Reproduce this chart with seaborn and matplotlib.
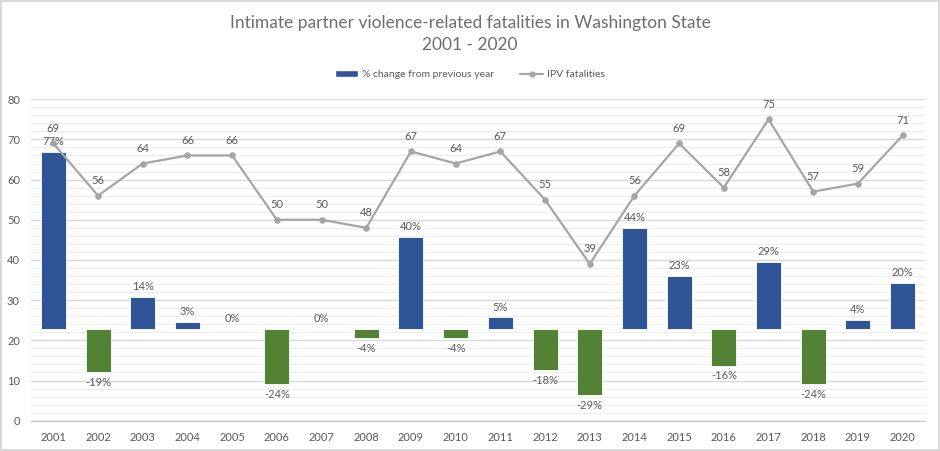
import numpy as np
import pandas as pd
import matplotlib
matplotlib.use("Agg")
import matplotlib.pyplot as plt
import seaborn as sns
from matplotlib.patches import Patch
from matplotlib.lines import Line2D

# --- dados ---
anos = [str(a) for a in range(2001, 2021)]
mortes_ipv = [69, 56, 64, 66, 66, 50, 50, 48, 67, 64, 67, 55, 39, 56, 69, 58, 75, 57, 59, 71]
variacao_pct = [77, -19, 14, 3, 0, -24, 0, -4, 40, -4, 5, -18, -29, 44, 23, -16, 29, -24, 4, 20]

AZUL = "#2F5597"
VERDE = "#548235"
CINZA_LINHA = "#A5A5A5"
CINZA_TEXTO = "#595959"

df = pd.DataFrame({
    "ano": anos,
    "mortes": mortes_ipv,
    "pct": np.array(variacao_pct) / 100,
})
cores = {a: (AZUL if p >= 0 else VERDE) for a, p in zip(anos, variacao_pct)}

sns.set_style("white")
plt.rcParams["font.family"] = ["Lato", "DejaVu Sans"]

fig = plt.figure(figsize=(9.4, 4.51), dpi=100, edgecolor="#D9D9D9", linewidth=1.5)
ax = fig.add_axes([0.033, 0.0672, 0.951, 0.7128])
ax_barras = ax.twinx()
ax_linha = ax.twinx()

# barras no eixo secundário (-40% a 100%)
sns.barplot(data=df, x="ano", y="pct", hue="ano", palette=cores, dodge=False,
            legend=False, width=0.56, edgecolor="white", linewidth=0.6,
            saturation=1, ax=ax_barras)
ax_barras.set_ylim(-0.4, 1.0)
for c in ax_barras.containers:
    ax_barras.bar_label(c, fmt="{:.0%}", padding=3.5, fontsize=8, color=CINZA_TEXTO)

# linha de mortes
sns.pointplot(data=df, x="ano", y="mortes", color=CINZA_LINHA, markers="o",
              markersize=3.5, linewidth=1.6, ax=ax_linha)
ax_linha.set_ylim(0, 80)
for i, v in enumerate(mortes_ipv):
    ax_linha.annotate(f"{v}", (i, v), xytext=(0, 11), textcoords="offset points",
                      ha="center", va="center", fontsize=8, color=CINZA_TEXTO)

# eixo principal: grade e rótulos
ax.set_ylim(0, 80)
ax.set_xlim(-0.5, 19.5)
ax.set_yticks(np.arange(0, 81, 10))
ax.set_yticks(np.arange(0, 81, 2), minor=True)
ax.grid(True, which="major", axis="y", color="#D9D9D9", linewidth=1)
ax.grid(True, which="minor", axis="y", color="#EDEDED", linewidth=0.8)
ax.set_xticks(range(len(anos)), labels=anos)
ax.set_xticks(np.arange(-0.5, 20, 1), minor=True)
ax.tick_params(axis="x", which="major", length=0, pad=8, labelsize=8, labelcolor=CINZA_TEXTO)
ax.tick_params(axis="x", which="minor", length=4, color="#BFBFBF", width=0.8)
ax.tick_params(axis="y", which="both", length=0, labelsize=8, labelcolor=CINZA_TEXTO, pad=8)
for s in ["top", "right", "left"]:
    ax.spines[s].set_visible(False)
ax.spines["bottom"].set_color("#BFBFBF")

for a in (ax_barras, ax_linha):
    a.set_xlim(-0.5, 19.5)
    a.set_ylabel("")
    a.set_xlabel("")
    a.set_yticks([])
    for s in a.spines.values():
        s.set_visible(False)
ax.set_xlabel("")
ax.set_ylabel("")

fig.text(0.5, 0.949, "Intimate partner violence-related fatalities in Washington State",
         ha="center", va="center", fontsize=12.5, color="#6E6E6E")
fig.text(0.5, 0.900, "2001 - 2020", ha="center", va="center", fontsize=12.5,
         color="#6E6E6E")

handles = [
    Patch(facecolor=AZUL, label="% change from previous year"),
    Line2D([0], [0], color=CINZA_LINHA, marker="o", markersize=3.5, linewidth=1.6,
           label="IPV fatalities"),
]
fig.legend(handles=handles, loc="center", bbox_to_anchor=(0.5, 0.834), ncol=2,
           frameon=False, fontsize=7.5, labelcolor=CINZA_TEXTO, handlelength=2.2,
           handleheight=0.6, columnspacing=2.5, handletextpad=0.4)

fig.savefig("out.png", dpi=100)
